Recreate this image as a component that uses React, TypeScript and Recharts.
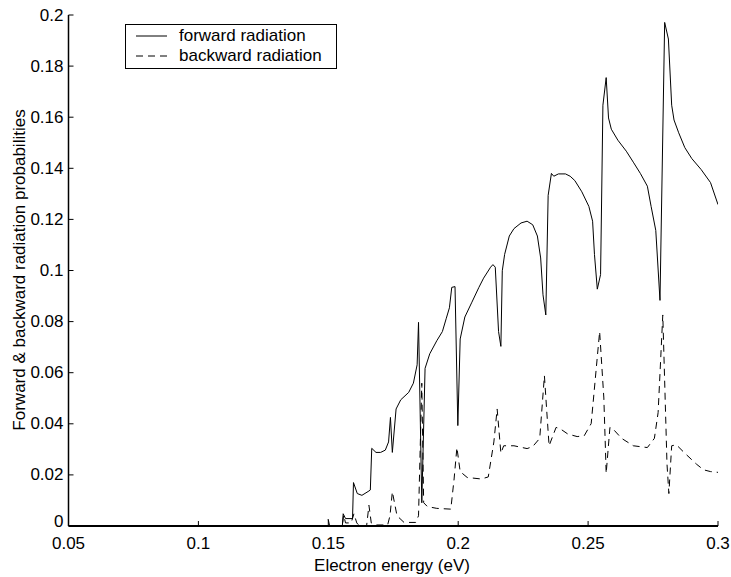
import React from 'react'
import { LineChart, Line, XAxis, YAxis, Legend } from 'recharts'

// electron energy (eV) / probability pairs
const forwardEnergy = [
  0.05, 0.1554, 0.15573, 0.15663, 0.15933, 0.15969, 0.16116, 0.16294, 0.16564, 0.16618,
  0.16672, 0.16836, 0.17014, 0.17194, 0.1732, 0.17392, 0.17465, 0.17609, 0.17789, 0.18095,
  0.18275, 0.18419, 0.18473, 0.18599, 0.18725, 0.18905, 0.19175, 0.19391, 0.19536, 0.19662,
  0.19752, 0.19878, 0.19986, 0.20076, 0.20256, 0.20527, 0.20797, 0.20977, 0.21247, 0.21337,
  0.21427, 0.21553, 0.21643, 0.21697, 0.21787, 0.21967, 0.22147, 0.22418, 0.22652, 0.22868,
  0.23048, 0.23174, 0.23264, 0.23372, 0.23462, 0.23588, 0.23678, 0.23858, 0.24129, 0.24309,
  0.24489, 0.24759, 0.25029, 0.25173, 0.25245, 0.25354, 0.2548, 0.2557, 0.25696, 0.25786,
  0.25894, 0.26146, 0.2647, 0.2674, 0.27011, 0.27281, 0.27425, 0.27605, 0.27767, 0.27947,
  0.28091, 0.28217, 0.28307, 0.28487, 0.28722, 0.28992, 0.29352, 0.29712, 0.3,
]
const forwardProb = [
  0, 0, 0.0048, 0.0029, 0.0029, 0.017, 0.0127, 0.012, 0.0137, 0.0141,
  0.0304, 0.0288, 0.0288, 0.0297, 0.0329, 0.0425, 0.0288, 0.0458, 0.0494, 0.0523,
  0.0559, 0.0631, 0.0797, 0.0091, 0.0617, 0.0674, 0.0725, 0.0761, 0.0811, 0.0854,
  0.0934, 0.0937, 0.0393, 0.0732, 0.0818, 0.0876, 0.0934, 0.097, 0.1013, 0.1023,
  0.1013, 0.0761, 0.0703, 0.0999, 0.1063, 0.1135, 0.1164, 0.1186, 0.1193, 0.1179,
  0.1135, 0.1049, 0.0905, 0.0826, 0.1294, 0.138, 0.1369, 0.1378, 0.1378, 0.1369,
  0.1352, 0.1308, 0.1251, 0.1193, 0.1063, 0.0927, 0.0984, 0.1647, 0.1755, 0.1597,
  0.1553, 0.151, 0.1467, 0.1424, 0.138, 0.133, 0.1251, 0.1157, 0.0883, 0.1971,
  0.1906, 0.1647, 0.1589, 0.1539, 0.1481, 0.1438, 0.1395, 0.1344, 0.1258,
]

const backwardEnergy = [
  0.05, 0.14943, 0.14997, 0.15051, 0.1554, 0.15591, 0.15663, 0.15879, 0.15987, 0.16096,
  0.16204, 0.16474, 0.16564, 0.16654, 0.16834, 0.17284, 0.17374, 0.17465, 0.17645, 0.17915,
  0.18365, 0.18473, 0.18599, 0.18671, 0.18815, 0.19175, 0.19716, 0.19842, 0.1995, 0.20076,
  0.20346, 0.20887, 0.21157, 0.21373, 0.21499, 0.21643, 0.21751, 0.22147, 0.22652, 0.22868,
  0.23138, 0.23318, 0.23498, 0.23768, 0.23948, 0.24219, 0.24579, 0.24849, 0.25119, 0.25444,
  0.25606, 0.25696, 0.2584, 0.25966, 0.2629, 0.2674, 0.27281, 0.27551, 0.27695, 0.27875,
  0.28037, 0.28109, 0.28217, 0.28397, 0.28722, 0.29172, 0.29442, 0.29712, 0.3,
]
const backwardProb = [
  0, 0, 0.0026, 0, 0, 0.0043, 0.0012, 0.0012, 0.0048, 0.0012,
  0, 0, 0.0081, 0.0012, 0.0004, 0.0004, 0.004, 0.0134, 0.004, 0.0014,
  0.0014, 0.004, 0.0559, 0.0091, 0.0076, 0.0069, 0.0066, 0.0184, 0.0307, 0.0213,
  0.019, 0.0184, 0.0192, 0.0329, 0.0458, 0.0285, 0.0314, 0.0314, 0.0303, 0.0311,
  0.0343, 0.0588, 0.0314, 0.0386, 0.0379, 0.036, 0.035, 0.0353, 0.0401, 0.0761,
  0.0501, 0.0206, 0.0386, 0.0379, 0.0343, 0.0314, 0.0307, 0.0343, 0.0444, 0.0826,
  0.0242, 0.0127, 0.0314, 0.0318, 0.0285, 0.0242, 0.022, 0.0213, 0.021,
]

const seriesNames = ['forward radiation', 'backward radiation']
const xTicks = [0.05, 0.1, 0.15, 0.2, 0.25, 0.3]
const yTicks = [0, 0.02, 0.04, 0.06, 0.08, 0.1, 0.12, 0.14, 0.16, 0.18, 0.2]

const forwardData = forwardEnergy.map((e, i) => ({ energy: e, prob: forwardProb[i] }))
const backwardData = backwardEnergy.map((e, i) => ({ energy: e, prob: backwardProb[i] }))

const FONT = '"Liberation Sans", Arial, Helvetica, sans-serif'
const tickStyle = { fontSize: 17, fill: '#000', fontFamily: FONT }
const blank = () => ''
const DASH = '7 5'

// y tick labels: the "0" sits a little above the axis so it clears "0.05"
function YTick(props: any) {
  const { x, y, payload } = props
  const lift = payload.value === 0 ? 5 : 0
  return (
    <text
      x={x}
      y={y - lift}
      textAnchor="end"
      dominantBaseline="central"
      fontFamily={FONT}
      fontSize={17}
      fill="#000"
    >
      {String(payload.value)}
    </text>
  )
}

function LegendBox(props: any) {
  const items = [...(props.payload || [])].sort(
    (a: any, b: any) => seriesNames.indexOf(a.value) - seriesNames.indexOf(b.value)
  )
  return (
    <div
      style={{
        position: 'relative',
        width: 212,
        height: 45,
        boxSizing: 'border-box',
        border: '1px solid #000',
        background: '#fff',
        fontFamily: FONT,
        fontSize: 17,
        color: '#000',
      }}
    >
      {items.map((it: any, i: number) => (
        <div
          key={it.value}
          style={{ position: 'absolute', left: 0, top: 1 + i * 20.3, height: 20, display: 'flex', alignItems: 'center' }}
        >
          <svg width={53} height={20}>
            <line
              x1={10}
              x2={41}
              y1={10}
              y2={10}
              stroke="#000"
              strokeWidth={1}
              strokeDasharray={it.payload?.strokeDasharray}
            />
          </svg>
          <span style={{ whiteSpace: 'nowrap' }}>{it.value}</span>
        </div>
      ))}
    </div>
  )
}

export default function App() {
  return (
    <div style={{ position: 'absolute', left: 0, top: 0, background: '#fff' }}>
      <LineChart width={731} height={577} margin={{ top: 15, right: 13, bottom: 0, left: 0 }}>
        <XAxis
          dataKey="energy"
          type="number"
          domain={[0.05, 0.3]}
          ticks={xTicks}
          allowDataOverflow
          height={51}
          tickSize={-5}
          tickMargin={16}
          tick={tickStyle}
          axisLine={{ stroke: '#000', strokeWidth: 2 }}
          tickLine={{ stroke: '#000' }}
          label={{
            content: () => (
              <text x={392} y={571} textAnchor="middle" fontFamily={FONT} fontSize={17} fill="#000">
                Electron energy (eV)
              </text>
            ),
          }}
        />
        <XAxis
          xAxisId="top"
          orientation="top"
          dataKey="energy"
          type="number"
          domain={[0.05, 0.3]}
          ticks={xTicks}
          allowDataOverflow
          height={0}
          tickSize={-5}
          tickFormatter={blank}
          axisLine={{ stroke: '#000' }}
          tickLine={{ stroke: '#000' }}
        />
        <YAxis
          type="number"
          domain={[0, 0.2]}
          ticks={yTicks}
          allowDataOverflow
          width={68.5}
          tickSize={-5}
          tickMargin={10}
          tick={<YTick />}
          axisLine={{ stroke: '#000', strokeWidth: 1.5 }}
          tickLine={{ stroke: '#000' }}
          label={{
            content: () => (
              <text
                x={19}
                y={270}
                transform="rotate(-90 19 270)"
                textAnchor="middle"
                dominantBaseline="central"
                fontFamily={FONT}
                fontSize={17}
                fill="#000"
              >
                Forward &amp; backward radiation probabilities
              </text>
            ),
          }}
        />
        <YAxis
          yAxisId="right"
          orientation="right"
          type="number"
          domain={[0, 0.2]}
          ticks={yTicks}
          width={0}
          tickSize={-5}
          tickFormatter={blank}
          axisLine={{ stroke: '#000' }}
          tickLine={{ stroke: '#000' }}
        />
        <Legend
          layout="vertical"
          align="center"
          verticalAlign="middle"
          wrapperStyle={{ left: 125, top: 24, width: 212, height: 45 }}
          content={<LegendBox />}
        />
        <Line
          data={forwardData}
          dataKey="prob"
          name="forward radiation"
          type="linear"
          stroke="#000"
          strokeWidth={1}
          dot={false}
          isAnimationActive={false}
        />
        <Line
          data={backwardData}
          dataKey="prob"
          name="backward radiation"
          type="linear"
          stroke="#000"
          strokeWidth={1}
          strokeDasharray={DASH}
          dot={false}
          isAnimationActive={false}
        />
      </LineChart>
    </div>
  )
}
